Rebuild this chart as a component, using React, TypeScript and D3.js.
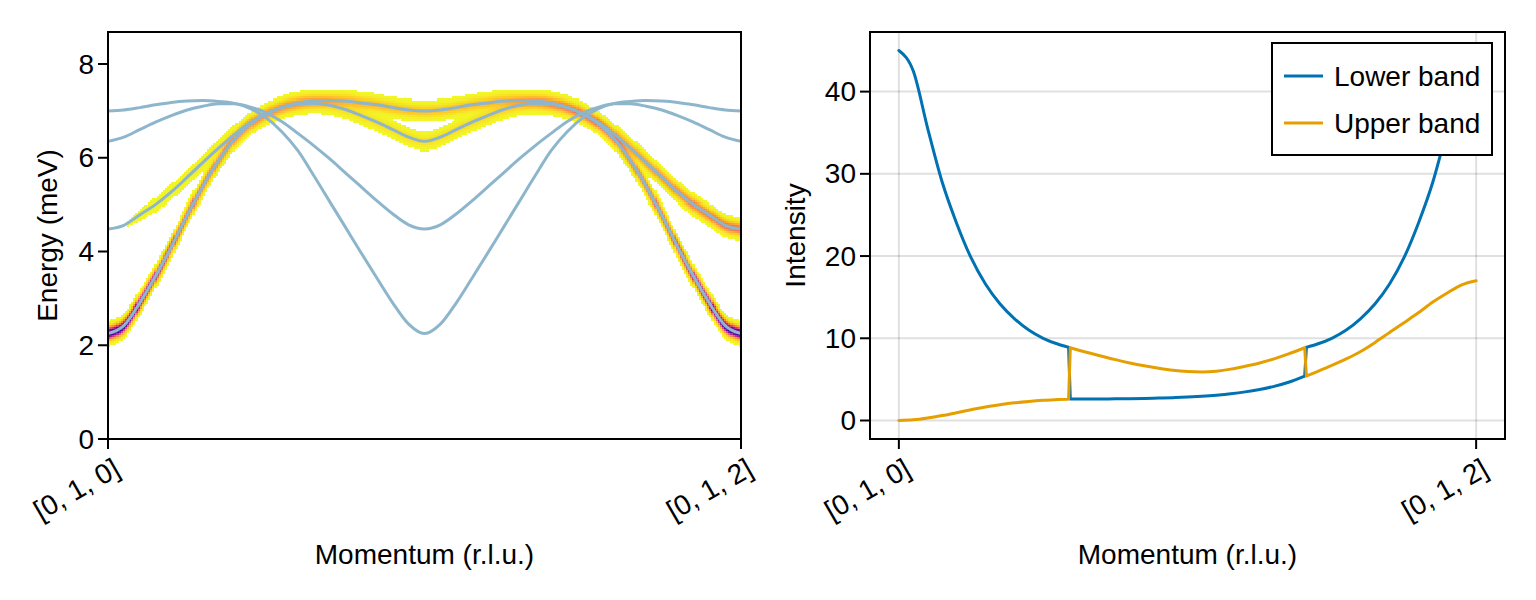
import React, { useMemo } from "react";
import * as d3 from "d3";

// ---------------- data ----------------
const bandQ = [
  0, 0.025, 0.05, 0.075, 0.1, 0.125, 0.15, 0.175, 0.2, 0.225, 0.25, 0.275, 0.3, 0.325, 0.35, 0.375, 0.4, 0.425, 0.45, 0.475,
  0.5, 0.525, 0.55, 0.575, 0.6, 0.625, 0.65, 0.675, 0.7, 0.725, 0.75, 0.775, 0.8, 0.825, 0.85, 0.875, 0.9, 0.925, 0.95, 0.975, 1,
];
// band with intensity, 2.25 meV at the zone edges
const bandA = [
  2.25, 2.42, 2.9, 3.47, 4.1, 4.77, 5.4, 5.95, 6.4, 6.72, 6.93, 7.08, 7.17, 7.21, 7.22, 7.21, 7.17, 7.13, 7.07, 7.02,
  7.0, 7.02, 7.07, 7.13, 7.17, 7.21, 7.22, 7.21, 7.17, 7.08, 6.93, 6.72, 6.4, 5.95, 5.4, 4.77, 4.1, 3.47, 2.9, 2.42, 2.25,
];
// band with intensity, 4.5 meV at the zone edges
const bandB = [
  4.48, 4.56, 4.78, 5.0, 5.27, 5.58, 5.9, 6.21, 6.5, 6.75, 6.94, 7.07, 7.14, 7.16, 7.12, 7.03, 6.9, 6.76, 6.6, 6.44,
  6.35, 6.44, 6.6, 6.76, 6.9, 7.03, 7.12, 7.16, 7.14, 7.07, 6.94, 6.75, 6.5, 6.21, 5.9, 5.58, 5.27, 5.0, 4.78, 4.56, 4.48,
];
// bands without visible intensity
const bandC = [
  7.0, 7.02, 7.07, 7.13, 7.18, 7.21, 7.22, 7.2, 7.16, 7.05, 6.85, 6.55, 6.15, 5.62, 5.07, 4.52, 3.97, 3.43, 2.9, 2.45,
  2.25, 2.45, 2.9, 3.43, 3.97, 4.52, 5.07, 5.62, 6.15, 6.55, 6.85, 7.05, 7.16, 7.2, 7.22, 7.21, 7.18, 7.13, 7.07, 7.02, 7.0,
];
const bandD = [
  6.35, 6.44, 6.6, 6.76, 6.9, 7.02, 7.1, 7.15, 7.15, 7.08, 6.96, 6.77, 6.52, 6.26, 5.98, 5.68, 5.38, 5.08, 4.8, 4.57,
  4.48, 4.57, 4.8, 5.08, 5.38, 5.68, 5.98, 6.26, 6.52, 6.77, 6.96, 7.08, 7.15, 7.15, 7.1, 7.02, 6.9, 6.76, 6.6, 6.44, 6.35,
];

const energyTicks = [0, 2, 4, 6, 8];
const momentumTicks = [0, 1];
const momentumTickLabels = ["[0, 1, 0]", "[0, 1, 2]"];
const intensityTicks = [0, 10, 20, 30, 40];

const intensityQ = [
  0, 0.025, 0.05, 0.075, 0.1, 0.125, 0.15, 0.175, 0.2, 0.225, 0.25, 0.275, 0.294, 0.297, 0.325, 0.35, 0.375, 0.4, 0.425,
  0.45, 0.475, 0.5, 0.525, 0.55, 0.575, 0.6, 0.625, 0.65, 0.675, 0.703, 0.706, 0.725, 0.75, 0.775, 0.8, 0.825, 0.85,
  0.875, 0.9, 0.925, 0.95, 0.975, 1,
];
const lowerBand = [
  45, 42.5, 35.5, 29, 24, 19.8, 16.6, 14.2, 12.4, 11.0, 10.0, 9.3, 8.9, 2.6, 2.6, 2.62, 2.64, 2.66, 2.69, 2.73, 2.78,
  2.85, 2.95, 3.08, 3.25, 3.48, 3.78, 4.15, 4.65, 5.4, 8.9, 9.3, 10.0, 11.0, 12.4, 14.2, 16.6, 19.8, 24, 29, 35.5, 42.5, 45,
];
const upperBand = [
  0, 0.08, 0.3, 0.6, 0.95, 1.3, 1.65, 1.92, 2.15, 2.32, 2.45, 2.54, 2.6, 8.85, 8.3, 7.85, 7.4, 7.0, 6.65, 6.35, 6.1,
  5.95, 5.9, 6.0, 6.25, 6.6, 7.0, 7.5, 8.1, 8.85, 5.4, 5.95, 6.7, 7.5, 8.4, 9.5, 10.7, 11.9, 13.1, 14.4, 15.5, 16.5, 17.0,
];
const seriesNames = ["Lower band", "Upper band"];
const seriesColors = ["#0072b2", "#e69f00"];

// ---------------- layout ----------------
const W = 1536;
const H = 600;
const L = { x0: 108, x1: 741, y0: 32, y1: 439 };
const R = { x0: 870, x1: 1505, y0: 32, y1: 439 };
const FONT = "'Liberation Sans', Arial, Helvetica, sans-serif";
const FS = 28;
const TICK = 10;
const PAD = 4;
const BAND_COLOR = "#8db6cd";
const SIGMA = 0.08;
const THRESH = 0.1;

// indices where the sorted series swap (two samples very close in q)
function jumpIndices(qs: number[]) {
  const out: number[] = [];
  for (let i = 0; i < qs.length - 1; i++) if (qs[i + 1] - qs[i] < 0.01) out.push(i);
  return out;
}

// same slopes as d3.curveMonotoneX, used to evaluate bands for the heatmap
function monotoneSlopes(xs: number[], ys: number[]) {
  const n = xs.length;
  const t = new Array(n).fill(0);
  const sgn = (v: number) => (v < 0 ? -1 : 1);
  for (let i = 1; i < n - 1; i++) {
    const h0 = xs[i] - xs[i - 1];
    const h1 = xs[i + 1] - xs[i];
    const s0 = (ys[i] - ys[i - 1]) / h0;
    const s1 = (ys[i + 1] - ys[i]) / h1;
    const p = (s0 * h1 + s1 * h0) / (h0 + h1);
    t[i] = (sgn(s0) + sgn(s1)) * Math.min(Math.abs(s0), Math.abs(s1), 0.5 * Math.abs(p)) || 0;
  }
  const h = xs[1] - xs[0];
  t[0] = (3 * (ys[1] - ys[0]) / h - t[1]) / 2;
  const hn = xs[n - 1] - xs[n - 2];
  t[n - 1] = (3 * (ys[n - 1] - ys[n - 2]) / hn - t[n - 2]) / 2;
  return t;
}
function hermite(xs: number[], ys: number[], ts: number[], x: number) {
  let i = d3.bisectRight(xs, x) - 1;
  i = Math.max(0, Math.min(xs.length - 2, i));
  const h = xs[i + 1] - xs[i];
  const u = (x - xs[i]) / h;
  const u2 = u * u;
  const u3 = u2 * u;
  return (
    (2 * u3 - 3 * u2 + 1) * ys[i] +
    (u3 - 2 * u2 + u) * h * ts[i] +
    (-2 * u3 + 3 * u2) * ys[i + 1] +
    (u3 - u2) * h * ts[i + 1]
  );
}

export default function App() {
  const xL = d3.scaleLinear().domain([0, 1]).range([L.x0, L.x1]);
  const yL = d3.scaleLinear().domain([0, 8.683]).range([L.y1, L.y0]);
  const xR = d3.scaleLinear().domain([-0.05, 1.05]).range([R.x0, R.x1]);
  const yR = d3.scaleLinear().domain([-2.25, 47.25]).range([R.y1, R.y0]);

  const bandLine = d3
    .line<number>()
    .x((_, i) => xL(bandQ[i]))
    .y((d) => yL(d))
    .curve(d3.curveMonotoneX);

  const jumps = jumpIndices(intensityQ);
  // split each series into smooth pieces at the jumps; jumps are straight connectors
  const pieceRanges: [number, number][] = [];
  {
    let s = 0;
    for (const j of jumps) {
      pieceRanges.push([s, j]);
      s = j + 1;
    }
    pieceRanges.push([s, intensityQ.length - 1]);
  }
  const intLine = d3
    .line<[number, number]>()
    .x((d) => xR(d[0]))
    .y((d) => yR(d[1]))
    .curve(d3.curveMonotoneX);
  const seriesPath = (vals: number[]) => {
    let d = "";
    for (const [a, b] of pieceRanges) {
      const pts: [number, number][] = [];
      for (let i = a; i <= b; i++) pts.push([intensityQ[i], vals[i]]);
      d += intLine(pts) || "";
    }
    for (const j of jumps) {
      d += `M${xR(intensityQ[j])},${yR(vals[j])}L${xR(intensityQ[j + 1])},${yR(vals[j + 1])}`;
    }
    return d;
  };

  const heatmap = useMemo(() => {
    const w = Math.round(L.x1 - L.x0);
    const h = Math.round(L.y1 - L.y0);
    const canvas = document.createElement("canvas");
    canvas.width = w;
    canvas.height = h;
    const ctx = canvas.getContext("2d");
    if (!ctx) return "";
    const img = ctx.createImageData(w, h);
    const tA = monotoneSlopes(bandQ, bandA);
    const tB = monotoneSlopes(bandQ, bandB);
    const lowS = d3.scaleLinear().domain(intensityQ).range(lowerBand).clamp(true);
    const upS = d3.scaleLinear().domain(intensityQ).range(upperBand).clamp(true);
    const cross = jumpIndices(intensityQ).map((i) => (intensityQ[i] + intensityQ[i + 1]) / 2);
    const vmax = d3.max(lowerBand) as number;
    const lut: number[][] = [];
    for (let k = 0; k < 256; k++) {
      const c = d3.rgb(d3.interpolatePlasma(1 - k / 255));
      lut.push([c.r, c.g, c.b]);
    }
    const nq = 300;
    const dE = 0.0435;
    for (let px = 0; px < w; px++) {
      const q = xL.invert(L.x0 + px + 0.5);
      const iq = Math.min(nq - 1, Math.max(0, Math.floor(q * nq)));
      const qc = (iq + 0.5) / nq;
      const eA = hermite(bandQ, bandA, tA, qc);
      const eB = hermite(bandQ, bandB, tB, qc);
      const inside = qc > cross[0] && qc < cross[1];
      const iA = inside ? upS(qc) : lowS(qc);
      const iB = inside ? lowS(qc) : upS(qc);
      for (let py = 0; py < h; py++) {
        const e = yL.invert(L.y0 + py + 0.5);
        const ie = Math.floor(e / dE);
        const ec = (ie + 0.5) * dE;
        const v =
          iA * Math.exp(-((ec - eA) ** 2) / (2 * SIGMA * SIGMA)) + iB * Math.exp(-((ec - eB) ** 2) / (2 * SIGMA * SIGMA));
        const o = (py * w + px) * 4;
        if (v < THRESH) {
          img.data[o + 3] = 0;
          continue;
        }
        const k = Math.max(0, Math.min(255, Math.round((v / vmax) * 255)));
        img.data[o] = lut[k][0];
        img.data[o + 1] = lut[k][1];
        img.data[o + 2] = lut[k][2];
        img.data[o + 3] = 255;
      }
    }
    ctx.putImageData(img, 0, 0);
    return canvas.toDataURL();
  }, []);

  const bands = [bandA, bandB, bandC, bandD];
  const series = [lowerBand, upperBand];

  const xTickLabel = (x: number, label: string, key: string) => (
    <text
      key={key}
      x={x + 9}
      y={L.y1 + 27}
      transform={`rotate(-30, ${x + 9}, ${L.y1 + 27})`}
      textAnchor="end"
      dominantBaseline="central"
      fontSize={FS}
    >
      {label}
    </text>
  );

  return (
    <svg
      width={W}
      height={H}
      style={{ position: "absolute", left: 0, top: 0, background: "#fff" }}
      fontFamily={FONT}
    >
      <rect x={0} y={0} width={W} height={H} fill="#fff" />
      {/* ---------- left panel ---------- */}
      <image
        href={heatmap}
        x={L.x0}
        y={L.y0}
        width={L.x1 - L.x0}
        height={L.y1 - L.y0}
        preserveAspectRatio="none"
      />
      <g fill="none" stroke={BAND_COLOR} strokeWidth={3}>
        {bands.map((b, i) => (
          <path key={i} d={bandLine(b) || ""} />
        ))}
      </g>
      <rect x={L.x0} y={L.y0} width={L.x1 - L.x0} height={L.y1 - L.y0} fill="none" stroke="#000" strokeWidth={2} />
      {energyTicks.map((t) => (
        <g key={t}>
          <line x1={L.x0 - TICK} x2={L.x0} y1={yL(t)} y2={yL(t)} stroke="#000" strokeWidth={2} />
          <text x={L.x0 - TICK - PAD} y={yL(t)} textAnchor="end" dominantBaseline="central" fontSize={FS}>
            {t}
          </text>
        </g>
      ))}
      {momentumTicks.map((t, i) => (
        <g key={t}>
          <line x1={xL(t)} x2={xL(t)} y1={L.y1} y2={L.y1 + TICK} stroke="#000" strokeWidth={2} />
          {xTickLabel(xL(t), momentumTickLabels[i], "l" + i)}
        </g>
      ))}
      <text x={(L.x0 + L.x1) / 2} y={564} textAnchor="middle" fontSize={FS}>
        Momentum (r.l.u.)
      </text>
      <text
        x={47}
        y={(L.y0 + L.y1) / 2}
        transform={`rotate(-90, 47, ${(L.y0 + L.y1) / 2})`}
        textAnchor="middle"
        dominantBaseline="central"
        fontSize={FS}
      >
        Energy (meV)
      </text>

      {/* ---------- right panel ---------- */}
      <g stroke="rgba(0,0,0,0.12)" strokeWidth={2}>
        {intensityTicks.map((t) => (
          <line key={"g" + t} x1={R.x0} x2={R.x1} y1={yR(t)} y2={yR(t)} />
        ))}
        {momentumTicks.map((t) => (
          <line key={"v" + t} x1={xR(t)} x2={xR(t)} y1={R.y0} y2={R.y1} />
        ))}
      </g>
      <g fill="none" strokeWidth={3} strokeLinejoin="round" strokeLinecap="round">
        {series.map((s, i) => (
          <path key={i} d={seriesPath(s)} stroke={seriesColors[i]} />
        ))}
      </g>
      <rect x={R.x0} y={R.y0} width={R.x1 - R.x0} height={R.y1 - R.y0} fill="none" stroke="#000" strokeWidth={2} />
      {intensityTicks.map((t) => (
        <g key={t}>
          <line x1={R.x0 - TICK} x2={R.x0} y1={yR(t)} y2={yR(t)} stroke="#000" strokeWidth={2} />
          <text x={R.x0 - TICK - PAD} y={yR(t)} textAnchor="end" dominantBaseline="central" fontSize={FS}>
            {t}
          </text>
        </g>
      ))}
      {momentumTicks.map((t, i) => (
        <g key={t}>
          <line x1={xR(t)} x2={xR(t)} y1={R.y1} y2={R.y1 + TICK} stroke="#000" strokeWidth={2} />
          {xTickLabel(xR(t), momentumTickLabels[i], "r" + i)}
        </g>
      ))}
      <text x={(R.x0 + R.x1) / 2} y={564} textAnchor="middle" fontSize={FS}>
        Momentum (r.l.u.)
      </text>
      <text
        x={795}
        y={(R.y0 + R.y1) / 2}
        transform={`rotate(-90, 795, ${(R.y0 + R.y1) / 2})`}
        textAnchor="middle"
        dominantBaseline="central"
        fontSize={FS}
      >
        Intensity
      </text>

      {/* legend */}
      <g>
        <rect x={1272} y={43} width={220} height={112} fill="#fff" stroke="#000" strokeWidth={2} />
        {seriesNames.map((n, i) => {
          const yy = 76 + i * 47;
          return (
            <g key={n}>
              <line x1={1284} x2={1323} y1={yy} y2={yy} stroke={seriesColors[i]} strokeWidth={3} />
              <text x={1334} y={yy} dominantBaseline="central" fontSize={FS}>
                {n}
              </text>
            </g>
          );
        })}
      </g>
    </svg>
  );
}
